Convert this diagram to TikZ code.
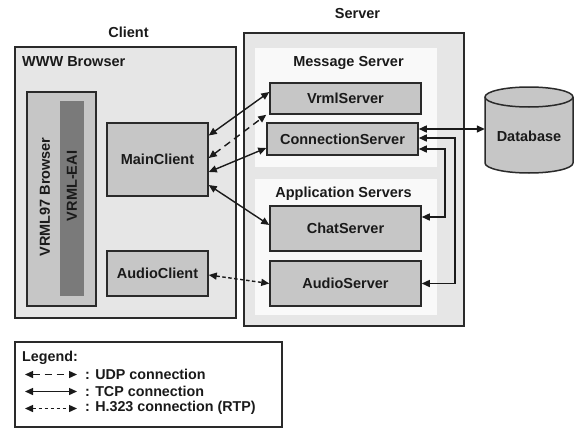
\documentclass[tikz,border=0pt]{standalone}
\usepackage{fontspec}
\setmainfont{Liberation Sans}
\usetikzlibrary{arrows.meta}

\definecolor{ink}{HTML}{1A1A1A}
\definecolor{edge}{HTML}{2A2A2A}
\definecolor{outergray}{HTML}{E6E6E6}
\definecolor{panelwhite}{HTML}{F9F9F9}
\definecolor{boxgray}{HTML}{C6C6C6}
\definecolor{bargray}{HTML}{7A7A7A}

\begin{document}
\begin{tikzpicture}[x=1pt,y=-1pt,
  lbl/.style={font=\fontsize{14.5}{17}\selectfont\bfseries, text=ink, inner sep=0pt},
  legtext/.style={font=\fontsize{14.3}{16}\selectfont\bfseries, text=ink, inner sep=0pt, anchor=west},
  area/.style={draw=edge, line width=1.5pt, fill=outergray, inner sep=0pt},
  panel/.style={fill=panelwhite, inner sep=0pt},
  unit/.style={draw=edge, line width=1.5pt, fill=boxgray, inner sep=0pt, lbl},
  tip/.tip={Triangle[length=8pt,width=7pt]},
  tcp/.style={draw=ink, line width=1.4pt, tip-tip},
  udp/.style={tcp, dash pattern=on 7pt off 5pt},
  rtp/.style={tcp, dash pattern=on 3.5pt off 2.5pt}]

\useasboundingbox (0,0) rectangle (575,428);

% ---------- client side ----------
\node[lbl] (clienttitle) at (128.5,32) {Client};
\node[area, minimum width=221pt, minimum height=271pt] (www) at (125.5,182.5) {};
\node[lbl, anchor=west] (wwwtitle) at (22,62) {WWW Browser};
\node[area, fill=boxgray, minimum width=69pt, minimum height=214pt] (vrmlb) at (61.5,199) {};
\node[lbl, rotate=90] (vrmlbtitle) at (45,197) {VRML97 Browser};
\node[fill=bargray, inner sep=0pt, minimum width=24pt, minimum height=195pt] (eai) at (72,198.5) {};
\node[lbl, rotate=90] (eaititle) at (72,186) {VRML-EAI};
\node[unit, minimum width=101pt, minimum height=73pt] (mainc) at (157.5,159.5) {MainClient};
\node[unit, minimum width=101pt, minimum height=45pt] (audioc) at (157.5,273.5) {AudioClient};

% ---------- server side ----------
\node[lbl] (servertitle) at (357.5,14) {Server};
\node[area, minimum width=220pt, minimum height=293pt] (server) at (354,179.5) {};
\node[panel, minimum width=182pt, minimum height=119pt] (msgp) at (346,107.5) {};
\node[panel, minimum width=182pt, minimum height=136pt] (appp) at (346,247) {};
\node[lbl] (msgtitle) at (348.5,63) {Message Server};
\node[lbl] (apptitle) at (343.5,194) {Application Servers};
\node[unit, minimum width=151pt, minimum height=31pt] (vrmls) at (345.5,98.5) {VrmlServer};
\node[unit, minimum width=151pt, minimum height=32pt] (conns) at (342.5,139) {ConnectionServer};
\node[unit, minimum width=151pt, minimum height=45pt] (chats) at (345.5,228.5) {ChatServer};
\node[unit, minimum width=151pt, minimum height=45pt] (audios) at (345.5,283.5) {AudioServer};

% ---------- database cylinder ----------
\node[inner sep=0pt, minimum width=88pt, minimum height=86pt] (db) at (529,130) {};
\fill[boxgray] (485,97) rectangle (573,163);
\fill[boxgray] (529,163) ellipse [x radius=44pt, y radius=10pt];
\draw[edge, line width=1.5pt] (485,97) -- (485,163)
  arc[start angle=180, end angle=360, x radius=44pt, y radius=10pt] -- (573,97);
\draw[edge, line width=1.5pt, fill=boxgray] (529,97) ellipse [x radius=44pt, y radius=10pt];
\node[lbl] (dbtitle) at ([yshift=-6pt]db.center) {Database};

% ---------- connections ----------
\draw[tcp] ([yshift=24pt]mainc.east) -- ([yshift=6.5pt]vrmls.west);
\draw[udp] ([yshift=1.5pt]mainc.east) -- ([xshift=-3pt]vrmls.south west);
\draw[tcp] ([yshift=-12.5pt]mainc.east) -- ([yshift=-9pt]conns.west);
\draw[tcp] ([yshift=-25.5pt]mainc.east) -- ([yshift=3.5pt]chats.west);
\draw[rtp] ([yshift=-1.5pt]audioc.east) -- (audios.west);
\draw[tcp] ([yshift=10pt]conns.east) -- ([yshift=1pt]db.west);
\draw[tcp] ([yshift=1pt]conns.east) -| (455,200) |- (audios.east);
\draw[tcp] ([yshift=-10pt]conns.east) -| (445,190) |- ([yshift=11.5pt]chats.east);

% ---------- legend ----------
\node[draw=edge, line width=1.5pt, fill=white, inner sep=0pt,
      minimum width=267pt, minimum height=85pt] (legend) at (148.5,384.5) {};
\node[legtext] (legtitle) at (22,358) {Legend:};
\coordinate (u1) at (25,374.5); \coordinate (u2) at (77,374.5);
\coordinate (t1) at (25,391.5); \coordinate (t2) at (77,391.5);
\coordinate (r1) at (25,408.5); \coordinate (r2) at (77,408.5);
\draw[udp] (u1) -- (u2);
\draw[tcp] (t1) -- (t2);
\draw[rtp] (r1) -- (r2);
\node[legtext] (udptext) at (85,374) {: UDP connection};
\node[legtext] (tcptext) at (85,391) {: TCP connection};
\node[legtext] (rtptext) at (85,408) {: H.323 connection (RTP)};
\end{tikzpicture}
\end{document}
